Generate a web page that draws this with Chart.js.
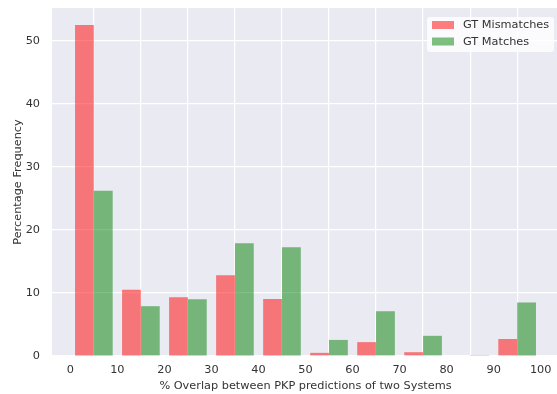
<!DOCTYPE html>
<html>
<head>
<meta charset="utf-8">
<script src="https://cdn.jsdelivr.net/npm/chart.js@4.4.1/dist/chart.umd.min.js"></script>
<style>
  html, body { margin: 0; padding: 0; background: #fff; overflow: hidden; }
  #wrap { width: 559px; height: 394px; }
</style>
</head>
<body>
<div id="wrap"><canvas id="chart"></canvas></div>
<script>
// histogram bins (left edges, width 10) and percentage per bin
var binStarts = [0, 10, 20, 30, 40, 50, 60, 70, 80, 90];
var binWidth = 10;
var mismatches = [52.5, 10.5, 9.3, 12.8, 9.05, 0.5, 2.2, 0.6, 0, 2.7];
var matches = [26.2, 7.9, 9.0, 17.9, 17.25, 2.55, 7.1, 3.2, 0.15, 8.5];
var xTicks = [0, 10, 20, 30, 40, 50, 60, 70, 80, 90, 100];
var yTicks = [0, 10, 20, 30, 40, 50];

var textColor = '#333333';
var font = { family: 'DejaVu Sans', size: 11.3 };

function toPoints(values) {
    return values.map((v, i) => ({ x: binStarts[i] + binWidth / 2, y: v }));
}

// grey axes background like seaborn darkgrid
const bgPlugin = {
    id: 'bg',
    beforeDraw(chart) {
        const a = chart.chartArea, ctx = chart.ctx;
        ctx.save();
        ctx.fillStyle = '#EAEAF2';
        ctx.fillRect(a.left, a.top, a.right - a.left, a.bottom - a.top);
        ctx.restore();
    }
};

// legend drawn inside the plot, top right
const legendPlugin = {
    id: 'innerLegend',
    afterDraw(chart) {
        const a = chart.chartArea, ctx = chart.ctx;
        const w = 127, h = 35;
        const x = a.right - 5 - w, y = a.top + 9;
        ctx.save();
        ctx.fillStyle = 'rgba(255,255,255,0.8)';
        ctx.beginPath();
        ctx.roundRect(x, y, w, h, 3);
        ctx.fill();
        ctx.font = '11.3px "DejaVu Sans"';
        ctx.textBaseline = 'middle';
        chart.data.datasets.forEach((ds, i) => {
            const cy = y + 8 + i * 16.5;
            ctx.fillStyle = ds.backgroundColor;
            ctx.fillRect(x + 5, cy - 4, 22, 8);
            ctx.fillStyle = textColor;
            ctx.fillText(ds.label, x + 36, cy + 0.5);
        });
        ctx.restore();
    }
};

const ctx = document.getElementById('chart').getContext('2d');
const myChart = new Chart(ctx, {
    type: 'bar',
    data: {
        datasets: [{
            label: 'GT Mismatches',
            data: toPoints(mismatches),
            backgroundColor: 'rgba(255,0,0,0.5)',
            borderWidth: 0,
            categoryPercentage: 0.8,
            barPercentage: 1.0
        }, {
            label: 'GT Matches',
            data: toPoints(matches),
            backgroundColor: 'rgba(0,128,0,0.5)',
            borderWidth: 0,
            categoryPercentage: 0.8,
            barPercentage: 1.0
        }]
    },
    options: {
        responsive: true,
        maintainAspectRatio: false,
        animation: false,
        layout: { padding: { top: 8, right: 0, left: 0, bottom: 0 } },
        plugins: {
            legend: { display: false },
            tooltip: { enabled: false }
        },
        scales: {
            x: {
                type: 'linear',
                offset: false,
                min: -3.9,
                max: 103.9,
                afterBuildTicks: (axis) => { axis.ticks = xTicks.map(v => ({ value: v })); },
                afterFit: (axis) => {
                    axis.height = 38;
                    axis.paddingLeft = 0;
                    axis.paddingRight = 0;
                },
                grid: { color: '#ffffff', lineWidth: 1.2, drawTicks: false },
                border: { display: false },
                ticks: { color: textColor, font: font, padding: 7, maxRotation: 0 },
                title: {
                    display: true,
                    text: '% Overlap between PKP predictions of two Systems',
                    color: textColor,
                    font: font,
                    padding: { top: 0, bottom: 1 }
                }
            },
            y: {
                min: 0,
                max: 55.2,
                afterBuildTicks: (axis) => { axis.ticks = yTicks.map(v => ({ value: v })); },
                afterFit: (axis) => {
                    axis.width = 52;
                    axis.paddingTop = 0;
                    axis.paddingBottom = 0;
                },
                grid: { color: '#ffffff', lineWidth: 1.2, drawTicks: false },
                border: { display: false },
                ticks: { color: textColor, font: font, padding: 12 },
                title: {
                    display: true,
                    text: 'Percentage Frequency',
                    color: textColor,
                    font: font,
                    padding: { top: 11, bottom: 0 }
                }
            }
        }
    },
    plugins: [bgPlugin, legendPlugin]
});
</script>
</body>
</html>
